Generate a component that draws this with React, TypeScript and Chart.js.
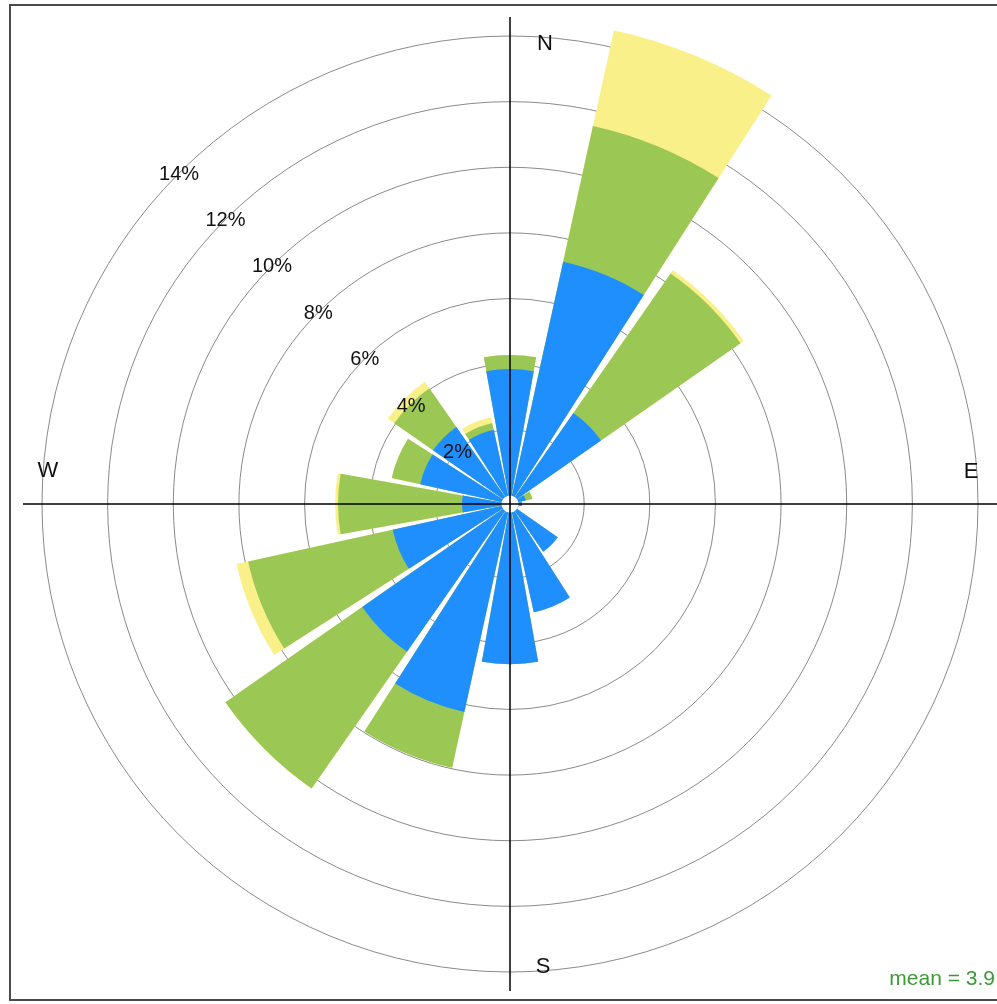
import React, { useEffect, useRef } from 'react';
import { Chart, registerables } from 'chart.js';

Chart.register(...registerables);

// 16 wind directions, clockwise from North
const directions = ['N', 'NNE', 'NE', 'ENE', 'E', 'ESE', 'SE', 'SSE', 'S', 'SSW', 'SW', 'WSW', 'W', 'WNW', 'NW', 'NNW'];
// frequency (%) per speed band, per direction
const bandLow = [3.85, 7.30, 3.12, 0.23, 0.10, 0.00, 1.51, 3.12, 4.62, 6.23, 5.23, 3.40, 1.20, 2.54, 2.60, 2.06];
const bandMid = [0.43, 4.23, 5.18, 0.21, 0.00, 0.00, 0.00, 0.00, 0.00, 1.74, 5.08, 4.51, 3.78, 0.89, 1.44, 0.21];
const bandHigh = [0.00, 2.99, 0.12, 0.00, 0.00, 0.00, 0.00, 0.00, 0.00, 0.00, 0.00, 0.36, 0.09, 0.00, 0.24, 0.18];
const ringTicks = [2, 4, 6, 8, 10, 12, 14];
const compassLabels = ['N', 'E', 'S', 'W'];
const meanText = 'mean = 3.9';

const COLOR_LOW = '#1e8ffc';
const COLOR_MID = '#9bc754';
const COLOR_HIGH = '#faf08a';
const R_MIN = -0.26;
const R_MAX = 14;
const BAR_ANGLE = 20.25;
const GAP_ANGLE = 2.25;

const cumLow = bandLow.slice();
const cumMid = bandLow.map((v, i) => v + bandMid[i]);
const cumHigh = cumMid.map((v, i) => v + bandHigh[i]);

const labels = directions.flatMap((d) => [d, '']);
const interleave = (arr: number[]) => arr.flatMap((v) => [v, R_MIN]);

const FONT = '"Liberation Sans", Arial, Helvetica, sans-serif';

const overlayPlugin = {
  id: 'roseOverlay',
  beforeDraw(chart: any) {
    const { ctx, width, height } = chart;
    ctx.save();
    ctx.fillStyle = '#ffffff';
    ctx.fillRect(0, 0, width, height);
    ctx.restore();
  },
  afterDatasetsDraw(chart: any) {
    const s = chart.scales.r;
    const ctx = chart.ctx;
    const cx = s.xCenter;
    const cy = s.yCenter;
    const R = s.drawingArea;
    ctx.save();
    // central hole
    ctx.fillStyle = '#ffffff';
    ctx.beginPath();
    ctx.arc(cx, cy, s.getDistanceFromCenterForValue(0), 0, Math.PI * 2);
    ctx.fill();
    // axes
    const ext = R + 19;
    ctx.strokeStyle = '#000000';
    ctx.lineWidth = 1.5;
    ctx.beginPath();
    ctx.moveTo(cx - ext, cy);
    ctx.lineTo(cx + ext, cy);
    ctx.moveTo(cx, cy - ext);
    ctx.lineTo(cx, cy + ext);
    ctx.stroke();
    // ring labels along NW diagonal
    ctx.fillStyle = '#111111';
    ctx.font = `20px ${FONT}`;
    ctx.textAlign = 'center';
    ctx.textBaseline = 'middle';
    ringTicks.forEach((v) => {
      const r = s.getDistanceFromCenterForValue(v);
      ctx.fillText(`${v}%`, cx - r * Math.SQRT1_2, cy - r * Math.SQRT1_2 + 1);
    });
    // compass labels
    ctx.font = `22px ${FONT}`;
    const pos = [
      [cx + 35, cy - R + 8],
      [cx + R - 7, cy - 32],
      [cx + 33, cy + R - 5],
      [cx - R + 6, cy - 33],
    ];
    compassLabels.forEach((t, i) => ctx.fillText(t, pos[i][0], pos[i][1]));
    ctx.restore();
  },
  afterDraw(chart: any) {
    const { ctx, width, height } = chart;
    ctx.save();
    ctx.strokeStyle = '#4a4a4a';
    ctx.lineWidth = 2;
    ctx.strokeRect(10, 5, width + 20, height - 9);
    ctx.fillStyle = '#3c9a35';
    ctx.font = `21px ${FONT}`;
    ctx.textAlign = 'right';
    ctx.textBaseline = 'alphabetic';
    ctx.fillText(meanText, width - 2, height - 19);
    ctx.restore();
  },
};

export default function App() {
  const canvasRef = useRef<HTMLCanvasElement | null>(null);

  useEffect(() => {
    if (!canvasRef.current) return;
    const angleFn = (c: any) => (c.dataIndex % 2 === 0 ? BAR_ANGLE : GAP_ANGLE);
    const colorFn = (col: string) => (c: any) => (c.dataIndex % 2 === 0 ? col : 'rgba(0,0,0,0)');
    const chart = new Chart(canvasRef.current, {
      type: 'polarArea',
      data: {
        labels,
        datasets: [
          { label: 'low', data: interleave(cumLow), backgroundColor: colorFn(COLOR_LOW), borderWidth: 0, angle: angleFn, clip: false } as any,
          { label: 'mid', data: interleave(cumMid), backgroundColor: colorFn(COLOR_MID), borderWidth: 0, angle: angleFn, clip: false } as any,
          { label: 'high', data: interleave(cumHigh), backgroundColor: colorFn(COLOR_HIGH), borderWidth: 0, angle: angleFn, clip: false } as any,
        ],
      },
      options: {
        responsive: false,
        animation: false,
        devicePixelRatio: 1,
        layout: { padding: { left: 42, top: 36, right: 19, bottom: 32 } },
        plugins: {
          legend: { display: false },
          tooltip: { enabled: false },
        },
        scales: {
          r: {
            min: R_MIN,
            max: R_MAX,
            startAngle: -BAR_ANGLE / 2,
            ticks: { display: false },
            grid: { display: true, circular: true, color: '#8a8a8a', lineWidth: 1 },
            angleLines: { display: false },
            pointLabels: { display: false },
            afterBuildTicks: (scale: any) => {
              scale.ticks = ringTicks.map((v) => ({ value: v }));
            },
          } as any,
        },
      },
      plugins: [overlayPlugin],
    });
    return () => chart.destroy();
  }, []);

  return (
    <div style={{ position: 'absolute', left: 0, top: 0, width: 997, height: 1004 }}>
      <canvas ref={canvasRef} width={997} height={1004} style={{ display: 'block' }} />
    </div>
  );
}
